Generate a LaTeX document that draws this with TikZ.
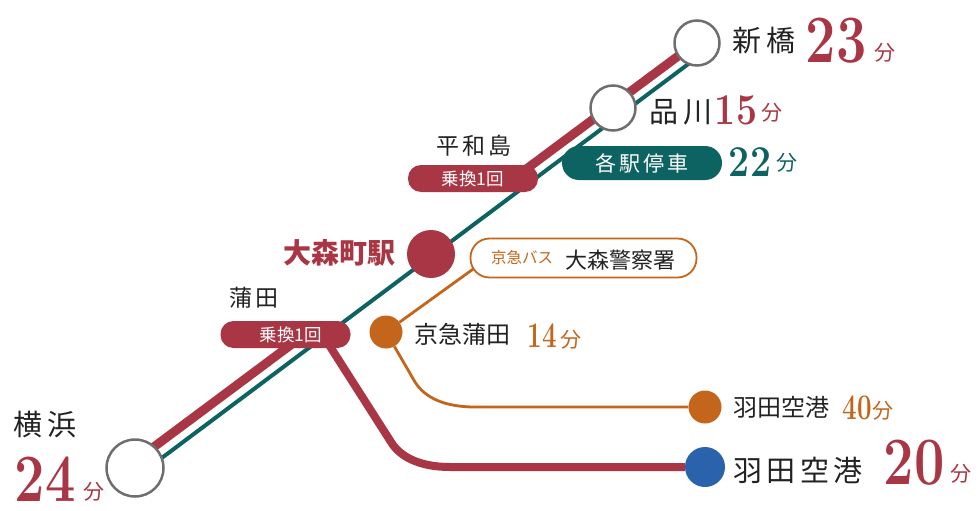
\documentclass[tikz,border=0pt]{standalone}
\usepackage{fontspec}
\usepackage{xcolor}
\usetikzlibrary{backgrounds}
\newfontfamily\jpfont{Noto Sans CJK JP}
\newfontfamily\jpwide[LetterSpace=14]{Noto Sans CJK JP}
\definecolor{linered}{HTML}{A83644}
\definecolor{lineteal}{HTML}{0D6361}
\definecolor{lineorange}{HTML}{C3651B}
\definecolor{lineblue}{HTML}{2A62AC}
\definecolor{ringgray}{HTML}{6E6E6E}
\definecolor{inkblack}{HTML}{222222}

\begin{document}
\begin{tikzpicture}[x=1pt, y=-1pt,
    ring/.style={circle, draw=ringgray, line width=2.5pt, fill=white, inner sep=0pt},
    dot/.style={circle, fill=#1, inner sep=0pt},
    pill/.style={rounded corners=13pt, fill=linered, text=white, minimum width=130pt, minimum height=27pt, inner sep=0pt, font=\fontsize{17.5}{17.5}\selectfont\jpfont},
    stname/.style={text=inkblack, inner sep=0pt, font=\fontsize{#1}{#1}\selectfont\jpwide},
    tight/.style={text=inkblack, inner sep=0pt, font=\fontsize{#1}{#1}\selectfont\jpfont},
    mins/.style={text=#1, inner sep=0pt, font=\fontsize{21}{21}\selectfont\jpfont},
    bignum/.style={text=linered, inner sep=0pt, xscale=.9, yscale=1.13, font=\fontsize{60}{60}\selectfont\bfseries},
    midnum/.style={text=#1, inner sep=0pt, xscale=.85, font=\fontsize{44}{44}\selectfont\bfseries},
    smallnum/.style={text=#1, inner sep=0pt, xscale=.72, font=\fontsize{36}{36}\selectfont\bfseries}]
    \useasboundingbox (0,0) rectangle (980,511);

    % stations
    \node[ring, minimum size=45pt] (shimbashi) at (697,43) {};
    \node[ring, minimum size=45pt] (shinagawa) at (613,108) {};
    \node[ring, minimum size=57pt] (yokohama) at (135,468) {};
    \node[dot=linered, minimum size=48pt] (omori) at (431,254) {};
    \node[dot=lineorange, minimum size=33pt] (kamatadot) at (386,332) {};
    \node[dot=lineorange, minimum size=33pt] (hanedadot) at (705,407) {};
    \node[dot=lineblue, minimum size=40pt] (hanedablue) at (705,467) {};

    % pills
    \node[pill] (heiwajima) at (473,178.5) {乗換1回};
    \node[pill] (kamata) at (285.5,334.5) {\hspace{11pt}乗換1回};
    \node[pill, fill=lineteal, rounded corners=17pt, minimum width=160pt, minimum height=34pt,
      font=\fontsize{21}{21}\selectfont\jpwide] (kakueki) at (642,163) {各駅停車};
    \node[draw=lineorange, line width=1.8pt, fill=white, rounded corners=19pt, minimum width=226pt,
      minimum height=39pt, inner sep=0pt] (buspill) at (583.5,258) {};

    % lines
    \begin{scope}[on background layer]
      \draw[lineteal, line width=4pt] ([shift={(0,10)}]yokohama.center) -- ([shift={(0,14.5)}]shimbashi.center);
      \draw[linered, line width=9pt] ([shift={(0,-7)}]yokohama.center) -- ([shift={(14.5,3.5)}]kamata.center);
      \draw[linered, line width=9pt] ([shift={(52,-8.5)}]heiwajima.center) -- ([shift={(0,-1)}]shimbashi.center);
      \draw[linered, line width=8pt] ([shift={(42,8)}]kamata.center) -- (391,442)
        .. controls (400,457) and (420,467) .. (450,467) -- (hanedablue);
      \draw[lineorange, line width=2.8pt] (kamatadot) -- ([shift={(-107.5,9)}]buspill.center);
      \draw[lineorange, line width=2.8pt] (kamatadot) -- (415,382)
        .. controls (425,398) and (445,407) .. (475,407) -- (hanedadot);
    \end{scope}

    % labels
    \node[stname=29] (shimbashilabel) at (764,41) {新橋};
    \node[bignum] (shimbashinum) at (836,41) {23};
    \node[mins=linered] (shimbashimin) at (885,53) {分};
    \node[stname=29] (shinagawalabel) at (681,112) {品川};
    \node[midnum=linered] (shinagawanum) at (736,110) {15};
    \node[mins=linered] (shinagawamin) at (772,113) {分};
    \node[stname=23] (heiwajimalabel) at (474,146) {平和島};
    \node[midnum=lineteal] (kakuekinum) at (750,162) {22};
    \node[mins=lineteal] (kakuekimin) at (787,163) {分};
    \node[text=linered, inner sep=0pt, font=\fontsize{28}{28}\selectfont\jpfont\bfseries] (omorilabel) at (339,253) {大森町駅};
    \node[text=lineorange, inner sep=0pt, font=\fontsize{15.5}{15.5}\selectfont\jpfont] (buslabel) at (522,258) {京急バス};
    \node[tight=22] (policelabel) at (620,260) {大森警察署};
    \node[tight=24] (keikyulabel) at (462,334) {京急蒲田};
    \node[smallnum=lineorange] (keikyunum) at (542,336) {14};
    \node[mins=lineorange] (keikyumin) at (571,340) {分};
    \node[stname=23] (kamatalabel) at (254,298) {蒲田};
    \node[stname=29] (yokohamalabel) at (45,425) {横浜};
    \node[bignum] (yokohamanum) at (45,479) {24};
    \node[mins=linered] (yokohamamin) at (94,492) {分};
    \node[tight=24] (hanedalabel) at (781,407) {羽田空港};
    \node[smallnum=lineorange] (hanedanum) at (857,408) {40};
    \node[mins=lineorange] (hanedamin) at (883,411) {分};
    \node[stname=29] (hanedabluelabel) at (798,470) {羽田空港};
    \node[bignum] (hanedabluenum) at (914,463) {20};
    \node[mins=linered] (hanedabluemin) at (961,474) {分};
  \end{tikzpicture}
\end{document}
